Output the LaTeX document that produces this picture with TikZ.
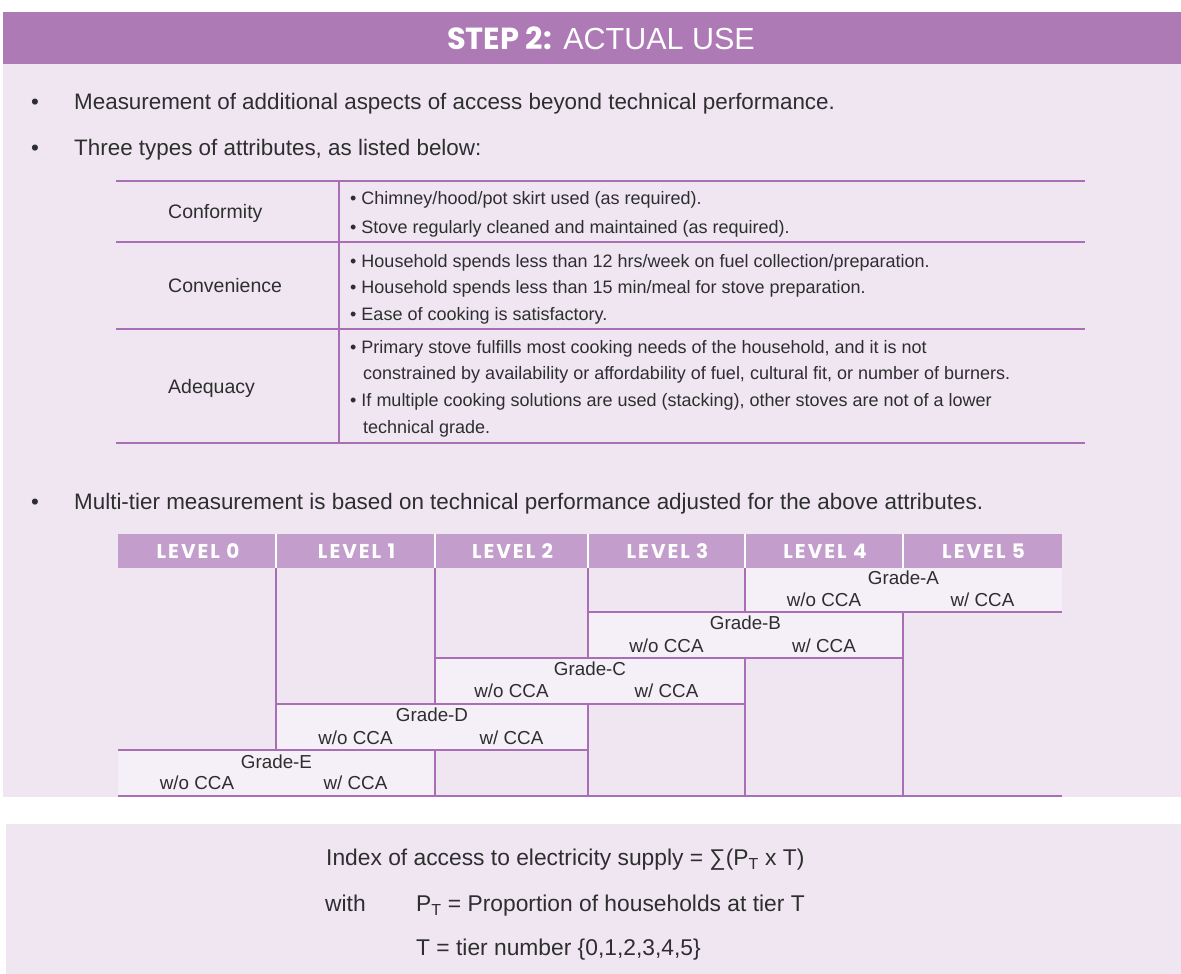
\documentclass[tikz,border=0pt]{standalone}
\usepackage{fontspec}
\setmainfont{Liberation Sans}
\newfontfamily\popfont{Poppins}
\newfontfamily\levelfont[LetterSpace=10]{Poppins}
\definecolor{headpurple}{HTML}{AD7AB5}
\definecolor{bodybg}{HTML}{EFE6F2}
\definecolor{levelbg}{HTML}{C39DCB}
\definecolor{gradebg}{HTML}{F5EFF7}
\definecolor{linepurple}{HTML}{A96FB4}
\definecolor{textgray}{HTML}{2E2E2E}
\begin{document}
\begin{tikzpicture}[x=1pt,y=-1pt,
  txt/.style={inner sep=0pt, text=textgray, text height=1.5ex, text depth=.25ex, yshift=-2.5pt},
  bigtxt/.style={txt, font=\fontsize{22.4}{26}\selectfont},
  formtxt/.style={txt, anchor=west, font=\fontsize{22.8}{26}\selectfont},
  celltxt/.style={txt, anchor=west, font=\fontsize{18}{22}\selectfont},
  labtxt/.style={txt, anchor=west, font=\fontsize{19.5}{23}\selectfont},
  gradetxt/.style={txt, font=\fontsize{18.8}{22}\selectfont},
  leveltxt/.style={inner sep=0pt, text=white, font=\levelfont\bfseries\fontsize{20}{22}\selectfont},
  rule/.style={draw=linepurple, line width=1.6pt},
  trule/.style={draw=linepurple, line width=1.2pt},
  gradecell/.style={fill=gradebg}
]
\useasboundingbox (0,0) rectangle (1181,974);
\fill[white] (0,0) rectangle (1181,974);
% panels
\fill[headpurple] (3,12) rectangle (1181,64);
\fill[bodybg] (3,64) rectangle (1181,797);
\fill[bodybg] (6,824) rectangle (1181,974);
\node[inner sep=0pt, text=white] (title) at (601,38)
  {\fontsize{30.5}{34}\selectfont{\popfont\bfseries STEP 2:} ACTUAL USE};

% bullets
\node[bigtxt] (d1) at (35,104) {•};
\node[bigtxt, anchor=west] (b1) at (74,104) {Measurement of additional aspects of access beyond technical performance.};
\node[bigtxt] (d2) at (35,150) {•};
\node[bigtxt, anchor=west] (b2) at (74,150) {Three types of attributes, as listed below:};
\node[bigtxt] (d3) at (35,504) {•};
\node[bigtxt, anchor=west] (b3) at (74,504) {Multi-tier measurement is based on technical performance adjusted for the above attributes.};

% attribute table
\draw[trule] (116,181) -- (1085,181);
\draw[trule] (116,242) -- (1085,242);
\draw[trule] (116,329) -- (1085,329);
\draw[trule] (116,443) -- (1085,443);
\draw[trule] (339,181) -- (339,443);
\node[labtxt] (conf) at (168,213) {Conformity};
\node[labtxt] (conv) at (168,287) {Convenience};
\node[labtxt] (adeq) at (168,388) {Adequacy};
\node[celltxt] (c1) at (350,199) {• Chimney/hood/pot skirt used (as required).};
\node[celltxt] (c2) at (350,228) {• Stove regularly cleaned and maintained (as required).};
\node[celltxt] (v1) at (350,262) {• Household spends less than 12 hrs/week on fuel collection/preparation.};
\node[celltxt] (v2) at (350,288) {• Household spends less than 15 min/meal for stove preparation.};
\node[celltxt] (v3) at (350,315) {• Ease of cooking is satisfactory.};
\node[celltxt] (a1) at (350,348) {• Primary stove fulfills most cooking needs of the household, and it is not};
\node[celltxt] (a2) at (363,374) {constrained by availability or affordability of fuel, cultural fit, or number of burners.};
\node[celltxt] (a3) at (350,401) {• If multiple cooking solutions are used (stacking), other stoves are not of a lower};
\node[celltxt] (a4) at (363,428) {technical grade.};

% level table header
\fill[levelbg] (118,534) rectangle (1062,568);
\foreach \x in {276,435,588,745,903} \draw[white, line width=2.5pt] (\x,534) -- (\x,568);
\node[leveltxt] (L0) at (198,551) {LEVEL 0};
\node[leveltxt] (L1) at (356.5,551) {LEVEL 1};
\node[leveltxt] (L2) at (512.5,551) {LEVEL 2};
\node[leveltxt] (L3) at (667.5,551) {LEVEL 3};
\node[leveltxt] (L4) at (825,551) {LEVEL 4};
\node[leveltxt] (L5) at (983.5,551) {LEVEL 5};

% grade cells
\fill[gradecell] (745,568) rectangle (1062,612);
\fill[gradecell] (588,612) rectangle (903,658);
\fill[gradecell] (435,658) rectangle (745,704);
\fill[gradecell] (276,704) rectangle (588,750);
\fill[gradecell] (118,750) rectangle (435,796);

% grid lines
\draw[rule] (588,612) -- (1062,612);
\draw[rule] (435,658) -- (903,658);
\draw[rule] (276,704) -- (745,704);
\draw[rule] (118,750) -- (588,750);
\draw[rule] (118,796) -- (1062,796);
\draw[rule] (276,568) -- (276,750);
\draw[rule] (435,568) -- (435,704);
\draw[rule] (435,750) -- (435,796);
\draw[rule] (588,568) -- (588,658);
\draw[rule] (588,704) -- (588,796);
\draw[rule] (745,568) -- (745,612);
\draw[rule] (745,658) -- (745,796);
\draw[rule] (903,612) -- (903,796);

% grade labels
\node[gradetxt] (gA) at (903.5,579) {Grade-A};
\node[gradetxt] (gAo) at (824,601) {w/o CCA};
\node[gradetxt] (gAw) at (982.5,601) {w/ CCA};
\node[gradetxt] (gB) at (745.5,624) {Grade-B};
\node[gradetxt] (gBo) at (666.5,647) {w/o CCA};
\node[gradetxt] (gBw) at (824,647) {w/ CCA};
\node[gradetxt] (gC) at (590,670) {Grade-C};
\node[gradetxt] (gCo) at (511.5,692) {w/o CCA};
\node[gradetxt] (gCw) at (666.5,692) {w/ CCA};
\node[gradetxt] (gD) at (432,716) {Grade-D};
\node[gradetxt] (gDo) at (355.5,739) {w/o CCA};
\node[gradetxt] (gDw) at (511.5,739) {w/ CCA};
\node[gradetxt] (gE) at (276.5,763) {Grade-E};
\node[gradetxt] (gEo) at (197,784) {w/o CCA};
\node[gradetxt] (gEw) at (355.5,784) {w/ CCA};

% formula box
\node[formtxt] (f1) at (326,860) {Index of access to electricity supply = ∑(P\textsubscript{T} x T)};
\node[formtxt] (f2) at (325,906) {with};
\node[formtxt] (f3) at (416,906) {P\textsubscript{T} = Proportion of households at tier T};
\node[formtxt] (f4) at (416,950) {T = tier number \{0,1,2,3,4,5\}};
\end{tikzpicture}
\end{document}
